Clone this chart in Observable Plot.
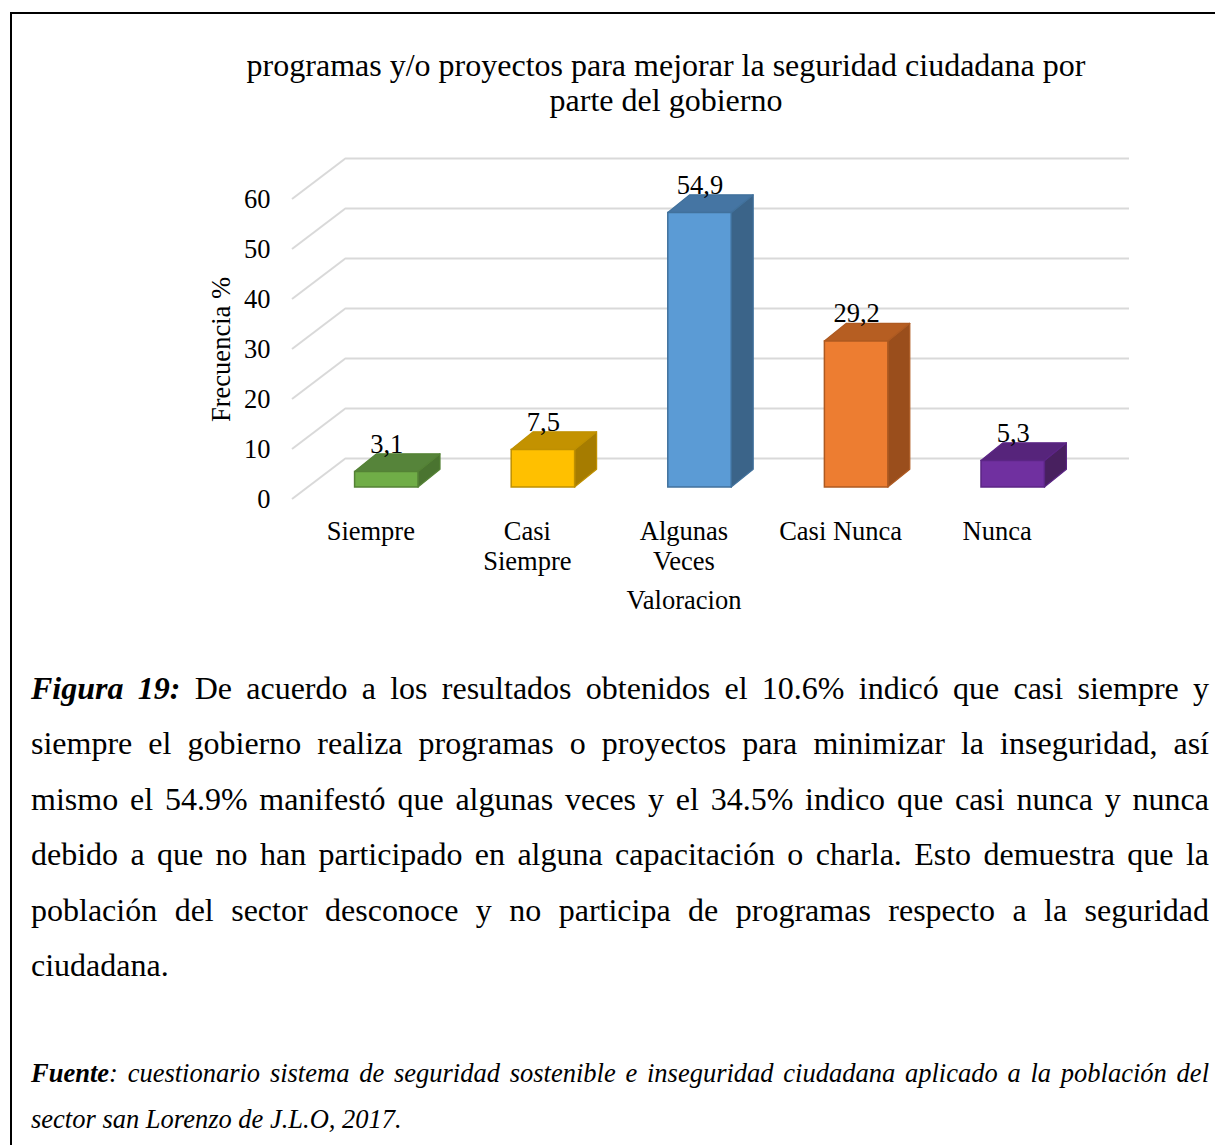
<!DOCTYPE html>
<html>
<head>
<meta charset="utf-8">
<script src="https://cdn.jsdelivr.net/npm/d3@7"></script>
<script src="https://cdn.jsdelivr.net/npm/@observablehq/plot@0.6"></script>
<style>
  html, body { margin: 0; padding: 0; background: #fff; }
  #page { position: relative; width: 1215px; height: 1145px; overflow: hidden;
          font-family: "Liberation Serif", "Times New Roman", serif; color: #000; }
  #frame { position: absolute; left: 10px; top: 12px; width: 1400px; height: 1400px;
           border-left: 2.5px solid #000; border-top: 2.5px solid #000; box-sizing: border-box; }
  #chart { position: absolute; left: 0; top: 0; }
  #chart svg { display: block; }
  .title { position: absolute; left: 166px; width: 1000px; text-align: center; white-space: nowrap;
           font-size: 32px; line-height: 35px; }
  .cap { position: absolute; left: 31px; width: 1178px; font-size: 32px; line-height: 55.4px; }
  .cap div, .src div { text-align: justify; text-align-last: justify; white-space: nowrap; }
  .cap div.last, .src div.last { text-align: left; text-align-last: left; }
  .src { position: absolute; left: 31px; width: 1178px; font-size: 26.5px; line-height: 46px; font-style: italic; }
</style>
</head>
<body>
<div id="page">
  <div id="frame"></div>
  <div class="title" style="top:48px">programas y/o proyectos para mejorar la seguridad ciudadana por</div>
  <div class="title" style="top:83px">parte del gobierno</div>
  <div id="chart"></div>
  <div class="cap" style="top:661px">
    <div><b><i>Figura 19:</i></b> De acuerdo a los resultados obtenidos el 10.6% indicó que casi siempre y</div>
    <div>siempre el gobierno realiza programas o proyectos para minimizar la inseguridad, así</div>
    <div>mismo el 54.9% manifestó que algunas veces y el 34.5% indico que casi nunca y nunca</div>
    <div>debido a que no han participado en alguna capacitación o charla. Esto demuestra que la</div>
    <div>población del sector desconoce y no participa de programas respecto a la seguridad</div>
    <div class="last">ciudadana.</div>
  </div>
  <div class="src" style="top:1050px">
    <div><b>Fuente</b>: cuestionario sistema de seguridad sostenible e inseguridad ciudadana aplicado a la población del</div>
    <div class="last">sector san Lorenzo de J.L.O, 2017.</div>
  </div>
</div>
<script>
// ---- data ----
const categories = ["Siempre", "Casi Siempre", "Algunas Veces", "Casi Nunca", "Nunca"];
const categoryLabels = ["Siempre", "Casi\nSiempre", "Algunas\nVeces", "Casi Nunca", "Nunca"];
const values = [3.1, 7.5, 54.9, 29.2, 5.3];
const valueLabels = ["3,1", "7,5", "54,9", "29,2", "5,3"];
const yTicks = [0, 10, 20, 30, 40, 50, 60];
const yTitle = "Frecuencia %";
const xTitle = "Valoracion";

// ---- styles ----
const frontColors = ["#70AD47", "#FFC000", "#5B9BD5", "#ED7D31", "#7030A0"];
const topColors   = ["#56843A", "#C39200", "#4575A3", "#B65E22", "#56247B"];
const sideColors  = ["#4A7430", "#A67C00", "#3B6489", "#9A4E1C", "#48205F"];
const edgeColors  = ["#548235", "#BF9000", "#41719C", "#AE5A21", "#5B2585"];

const data = categories.map((c, i) => ({
  category: c, label: categoryLabels[i], value: values[i], valueLabel: valueLabels[i],
  front: frontColors[i], top: topColors[i], side: sideColors[i], edge: edgeColors[i]
}));

// 3D geometry (pixels)
const WALL_DX = 54, WALL_DY = -41;     // back wall offset from axis plane
const BAR_DX = 16, BAR_DY = -12;       // bar front plane offset from axis plane
const DEPTH_DX = 22, DEPTH_DY = -17.7; // bar depth
const BAR_FRAC = 0.405;                // bar width / band width
const FS = 26.5;

const W = 1215, H = 640, ML = 292, MR = 140, MT = 199, MB = 141;
const bandW = (W - ML - MR) / categories.length;
const inset = bandW * (1 - BAR_FRAC) / 2;

function bandInfo(scales, dimensions) {
  const x = scales.x;
  const bw = (x && typeof x.bandwidth === "function") ? x.bandwidth()
    : (dimensions.width - dimensions.marginLeft - dimensions.marginRight) / categories.length;
  return {x, bw};
}

// diagonal wall gridlines (left side wall)
function wallDiagonals(index, scales, vals, dimensions) {
  const y = scales.y;
  const g = d3.create("svg:g");
  const x0 = dimensions.marginLeft;
  for (const t of yTicks) {
    g.append("line")
      .attr("x1", x0).attr("y1", y(t))
      .attr("x2", x0 + WALL_DX).attr("y2", y(t) + WALL_DY)
      .attr("stroke", "#d9d9d9").attr("stroke-width", 2);
  }
  return g.node();
}

// top & side faces of the 3D bars
function barFaces(index, scales, vals, dimensions) {
  const {x, bw} = bandInfo(scales, dimensions);
  const y = scales.y;
  const g = d3.create("svg:g");
  for (const d of data) {
    const cx = x(d.category) + bw / 2 + BAR_DX;
    const half = bw * BAR_FRAC / 2;
    const x1 = cx - half, x2 = cx + half;
    const yt = y(d.value) + BAR_DY, yb = y(0) + BAR_DY;
    g.append("path")
      .attr("d", `M${x2},${yt}L${x2 + DEPTH_DX},${yt + DEPTH_DY}L${x2 + DEPTH_DX},${yb + DEPTH_DY}L${x2},${yb}Z`)
      .attr("fill", d.side).attr("stroke", d.edge).attr("stroke-width", 1.2).attr("stroke-linejoin", "round");
    g.append("path")
      .attr("d", `M${x1},${yt}L${x2},${yt}L${x2 + DEPTH_DX},${yt + DEPTH_DY}L${x1 + DEPTH_DX},${yt + DEPTH_DY}Z`)
      .attr("fill", d.top).attr("stroke", d.edge).attr("stroke-width", 1.2).attr("stroke-linejoin", "round");
  }
  return g.node();
}

const chart = Plot.plot({
  width: W, height: H,
  marginLeft: ML, marginRight: MR, marginTop: MT, marginBottom: MB,
  style: {fontSize: FS + "px", fontFamily: "'Liberation Serif', 'Times New Roman', serif", color: "#000", background: "transparent", overflow: "visible"},
  x: {type: "band", domain: categories, padding: 0, round: false, axis: null},
  y: {domain: [0, 60], ticks: yTicks, tickSize: 0, tickPadding: 22, label: null},
  marks: [
    Plot.ruleY(yTicks, {dx: WALL_DX, dy: WALL_DY, stroke: "#d9d9d9", strokeWidth: 2}),
    wallDiagonals,
    barFaces,
    Plot.barY(data, {x: "category", y: "value", fill: "front", stroke: "edge", strokeWidth: 1.5,
      insetLeft: inset, insetRight: inset, dx: BAR_DX, dy: BAR_DY}),
    Plot.text(data, {x: "category", y: "value", text: "valueLabel", dx: BAR_DX,
      dy: BAR_DY + DEPTH_DY - 10, lineAnchor: "middle", fill: "#000", fontSize: FS}),
    Plot.text(data, {x: "category", text: "label", frameAnchor: "bottom", lineAnchor: "top",
      dy: 19, lineHeight: 30 / FS, fill: "#000", fontSize: FS}),
    Plot.text([yTitle], {text: d => d, frameAnchor: "left", rotate: -90, dx: -71,
      textAnchor: "middle", lineAnchor: "middle", fill: "#000", fontSize: FS}),
    Plot.text([xTitle], {text: d => d, frameAnchor: "bottom", dy: 101.5,
      textAnchor: "middle", lineAnchor: "middle", fill: "#000", fontSize: FS})
  ]
});
document.getElementById("chart").appendChild(chart);
</script>
</body>
</html>
